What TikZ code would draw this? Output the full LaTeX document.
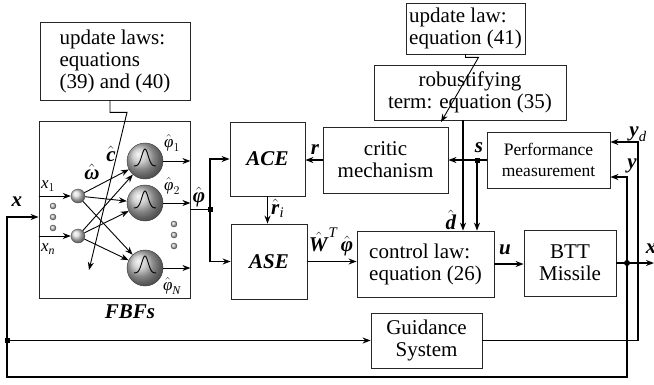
\documentclass[tikz,border=0pt]{standalone}
\usepackage{amsmath}
\usepackage{fontspec}
\setmainfont{Liberation Serif}
\usetikzlibrary{arrows.meta}
\newcommand{\bv}[1]{\textbf{\textit{#1}}}

\begin{document}
\begin{tikzpicture}[x=1pt, y=-1pt, >={Stealth[length=8pt,width=6pt]},
  blk/.style={draw=black!85, line width=0.8pt, inner sep=2pt, font=\fontsize{21}{22}\selectfont},
  sig/.style={line width=1.8pt},
  med/.style={line width=1.3pt},
  thn/.style={line width=0.9pt},
  lbl/.style={font=\fontsize{21}{22}\selectfont, inner sep=0pt},
  slbl/.style={font=\fontsize{17}{18}\selectfont, inner sep=0pt},
  jsq/.style={fill, minimum size=5pt, inner sep=0pt},
  nrn/.style={circle, draw=black!70, ball color=gray!30, minimum size=14pt, inner sep=0pt},
  gau/.style={circle, draw=black!80, ball color=gray!50, minimum size=36pt, inner sep=0pt},
  dot/.style={circle, draw=black!70, ball color=gray!45, minimum size=6pt, inner sep=0pt}]
  \useasboundingbox (0,0) rectangle (654,384);
  % blocks
  \node[blk, minimum width=150pt, minimum height=78pt, align=left] (upda) at (115,61) {update laws:\\equations\\(39) and (40)};
  \node[blk, minimum width=151pt, minimum height=177pt] (fbf) at (114.5,209.5) {};
  \node[lbl] (fbfl) at (130,312) {\bv{FBFs}};
  \node[blk, minimum width=75pt, minimum height=74pt] (ace) at (267.5,159) {\bv{ACE}};
  \node[blk, minimum width=76pt, minimum height=75pt] (ase) at (269,261.5) {\bv{ASE}};
  \node[blk, minimum width=125pt, minimum height=66pt, align=center] (crit) at (385.5,160) {critic\\mechanism};
  \node[blk, minimum width=119pt, minimum height=51pt, align=left] (updb) at (465.5,28.5) {update law:\\equation (41)};
  \node[blk, minimum width=192pt, minimum height=55pt, align=center] (rob) at (470,92.5) {robustifying\\term: equation (35)};
  \node[blk, minimum width=123pt, minimum height=56pt, align=center, font=\fontsize{17.5}{21}\selectfont] (perf) at (548.5,160) {Performance\\measurement};
  \node[blk, minimum width=137pt, minimum height=66pt, align=left] (ctrl) at (425.5,264) {control law:\\equation (26)};
  \node[blk, minimum width=92pt, minimum height=66pt, align=center] (btt) at (570,263) {BTT\\Missile};
  \node[blk, minimum width=111pt, minimum height=55pt, align=center] (guid) at (426.5,340.5) {Guidance\\System};

  % FBF network
  \node[nrn] (n1) at (78,196) {};
  \node[nrn] (nn) at (78,236) {};
  \node[gau] (g1) at (145,161) {};
  \node[gau] (g2) at (145,203) {};
  \node[gau] (gN) at (145,268) {};
  \foreach \g in {g1,g2,gN}
    \draw[thn, shift={(\g)}] plot[domain=-11:11, samples=41, smooth] (\x,{5-17*exp(-((\x/4.5)^2))});
  \foreach \a in {n1,nn}
    \foreach \b in {g1,g2,gN}
      \draw[thn,->] (\a) -- (\b);
  \foreach \b in {g1,g2,gN}
    \draw[thn,->] (\b) -- (\b -| fbf.east);
  \draw[thn,->] (n1 -| fbf.west) -- (n1);
  \draw[thn,->] (nn -| fbf.west) -- (nn);
  \foreach \y [count=\i] in {206,217,228}
    \node[dot] (dl\i) at (53,\y) {};
  \foreach \y [count=\i] in {224,235,246}
    \node[dot] (dr\i) at (174,\y) {};
  \node[slbl] (lx1) at (48,186) {$\textit{x}_{1}$};
  \node[slbl] (lxn) at (48,249) {$\textit{x}_{\textit{n}}$};
  \node[slbl] (lp1) at (172,143) {$\hat{\textit{φ}}_{1}$};
  \node[slbl] (lp2) at (172,186) {$\hat{\textit{φ}}_{2}$};
  \node[slbl] (lpN) at (172,286) {$\hat{\textit{φ}}_{\textit{N}}$};
  \node[lbl] (lw) at (92,172) {$\hat{\bv{ω}}$};
  \node[lbl] (lc) at (111,154) {$\hat{\bv{c}}$};

  % update law arrows
  \coordinate (ua) at (89,270);
  \draw[thn,->] ([xshift=-5pt]upda.south) -- ++(0,12) -- ++(17,0) -- (ua);
  \coordinate (ub) at (441,122);
  \draw[thn,->] (updb.south) -- ++(0,3) -- ++(13,0) -- (ub);

  % phi hat to ACE and ASE
  \coordinate (jp) at (210,209.5);
  \draw[sig] (fbf.east) -- (jp);
  \draw[sig,->] (jp) |- (ace.west);
  \draw[sig,->] (jp) |- (ase.west);
  \node[jsq] (jpq) at (jp) {};
  \node[lbl] (lphi) at (199,197) {$\hat{\bv{φ}}$};
  \draw[sig,->] (ace.south) -- (ace.south |- ase.north);
  \node[lbl, anchor=west] (lri) at (271,208) {$\hat{\bv{r}}_{\textit{i}}$};
  \draw[sig,->] (crit.west) -- (crit.west -| ace.east);
  \node[lbl] (lr) at (315,150) {\bv{r}};
  \draw[sig,->] (ase.east) -- (ase.east -| ctrl.west);
  \node[lbl] (lwt) at (331,242) {$\hat{\bv{W}}^{\textit{T}}\,\hat{\bv{φ}}$};

  % s and d hat
  \coordinate (js) at (477,160);
  \draw[sig,->] (perf.west) -- (perf.west -| crit.east);
  \draw[sig,->] (js) -- (js |- ctrl.north);
  \node[jsq] (jsb) at (js) {};
  \node[lbl] (ls) at (479,148) {\bv{s}};
  \coordinate (rd) at (463,0);
  \draw[sig,->] (rd |- rob.south) -- (rd |- ctrl.north);
  \node[lbl] (ld) at (451,220) {$\hat{\bv{d}}$};

  % control, missile, output
  \draw[sig,->] (ctrl.east) -- (btt.west |- ctrl.east);
  \node[lbl] (lu) at (505,250) {\bv{u}};
  \coordinate (xo) at (654,263);
  \draw[sig,->] (btt.east) -- (xo);
  \node[lbl] (lx) at (651,249) {\bv{x}};
  \node[circle, fill, minimum size=6pt, inner sep=0pt] (jy) at (627,263) {};

  % feedback loops
  \coordinate (yc) at (627,177);
  \coordinate (br) at (627,377);
  \coordinate (bl) at (7,377);
  \coordinate (xl) at (7,217);
  \coordinate (jg) at (7,340.5);
  \draw[sig,<->] (yc -| perf.east) -- (yc) -- (br) -- (bl) -- (xl) -- (xl -| fbf.west);
  \node[lbl] (ly) at (632,166) {\bv{y}};
  \node[lbl] (lxi) at (17,202) {\bv{x}};
  \draw[sig,->] (jg) -- (jg -| guid.west);
  \node[jsq] (jgq) at (jg) {};
  \coordinate (yd) at (638,142);
  \draw[med,->] (guid.east) -| (yd) -- (yd -| perf.east);
  \node[lbl] (lyd) at (638,134) {$\bv{y}_{\textit{d}}$};
\end{tikzpicture}
\end{document}
